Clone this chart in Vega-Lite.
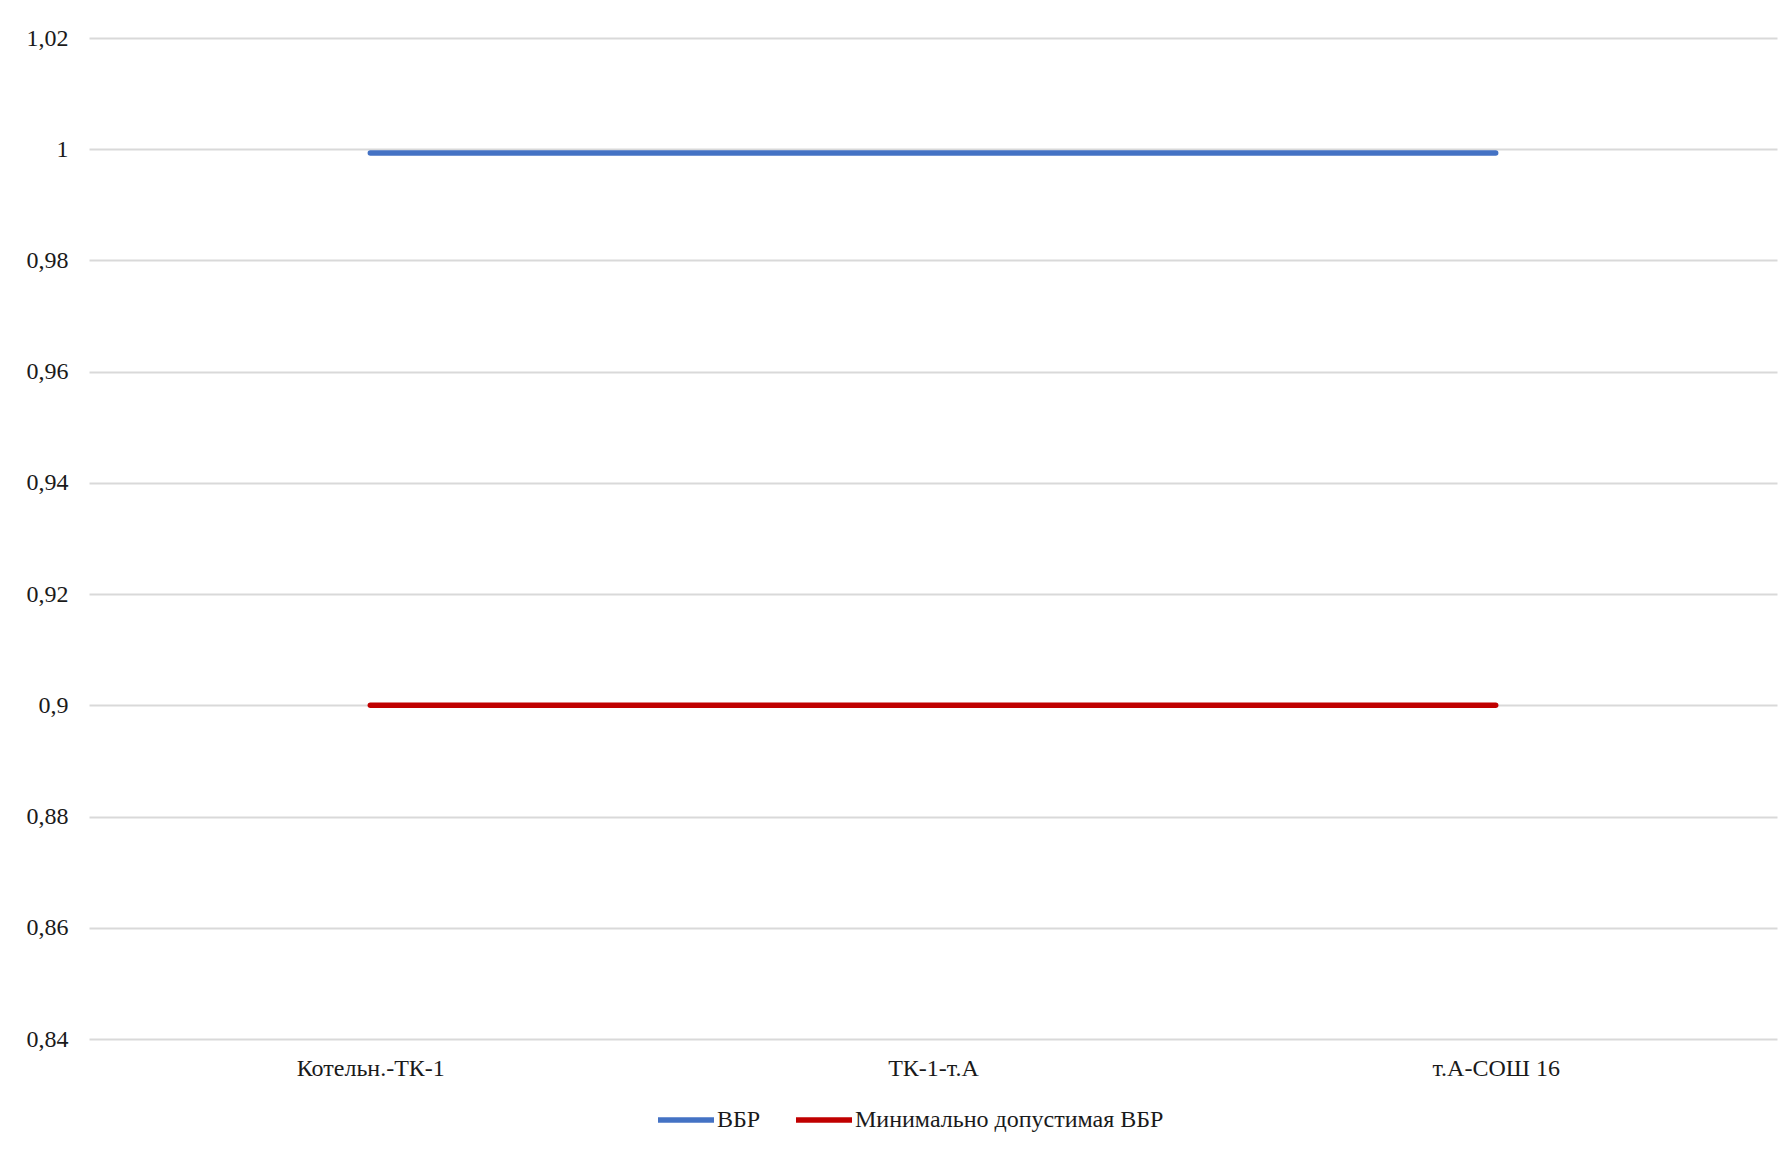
{
  "$schema": "https://vega.github.io/schema/vega-lite/v6.json",
  "width": 1688,
  "height": 1001,
  "autosize": {"type": "none"},
  "padding": {"left": 89, "top": 38, "right": 14, "bottom": 110},
  "background": "#ffffff",
  "config": {
    "font": "Liberation Serif",
    "view": {"stroke": null},
    "axis": {"labelFont": "Liberation Serif", "labelFontSize": 24, "labelColor": "#1a1a1a"},
    "legend": {"labelFont": "Liberation Serif", "labelFontSize": 24, "labelColor": "#1a1a1a"}
  },
  "data": {
    "values": [
      {"segment": "Котельн.-ТК-1", "series": "ВБР", "value": 0.9993},
      {"segment": "ТК-1-т.А", "series": "ВБР", "value": 0.9993},
      {"segment": "т.А-СОШ 16", "series": "ВБР", "value": 0.9993},
      {"segment": "Котельн.-ТК-1", "series": "Минимально допустимая ВБР", "value": 0.9},
      {"segment": "ТК-1-т.А", "series": "Минимально допустимая ВБР", "value": 0.9},
      {"segment": "т.А-СОШ 16", "series": "Минимально допустимая ВБР", "value": 0.9}
    ]
  },
  "mark": {"type": "line", "strokeWidth": 5.5, "strokeCap": "round", "strokeJoin": "round"},
  "encoding": {
    "x": {
      "field": "segment",
      "type": "nominal",
      "sort": ["Котельн.-ТК-1", "ТК-1-т.А", "т.А-СОШ 16"],
      "scale": {"type": "point", "padding": 0.5},
      "axis": {"title": null, "labelAngle": 0, "domain": false, "ticks": false, "grid": false, "labelPadding": 17}
    },
    "y": {
      "field": "value",
      "type": "quantitative",
      "scale": {"domain": [0.84, 1.02], "nice": false, "zero": false},
      "axis": {
        "title": null,
        "values": [0.84, 0.86, 0.88, 0.9, 0.92, 0.94, 0.96, 0.98, 1, 1.02],
        "labelExpr": "replace(format(datum.value, '.2~f'), '.', ',')",
        "domain": false,
        "ticks": false,
        "grid": true,
        "gridColor": "#d9d9d9",
        "gridWidth": 2,
        "labelPadding": 21
      }
    },
    "color": {
      "field": "series",
      "type": "nominal",
      "scale": {"domain": ["ВБР", "Минимально допустимая ВБР"], "range": ["#4472c4", "#c00000"]},
      "legend": {
        "title": null,
        "orient": "none",
        "direction": "horizontal",
        "legendX": 566,
        "legendY": 1051,
        "padding": 0,
        "symbolType": "stroke",
        "symbolSize": 3136,
        "symbolStrokeWidth": 5.5,
        "labelOffset": 0,
        "columnPadding": 24,
        "labelLimit": 500
      }
    }
  }
}
